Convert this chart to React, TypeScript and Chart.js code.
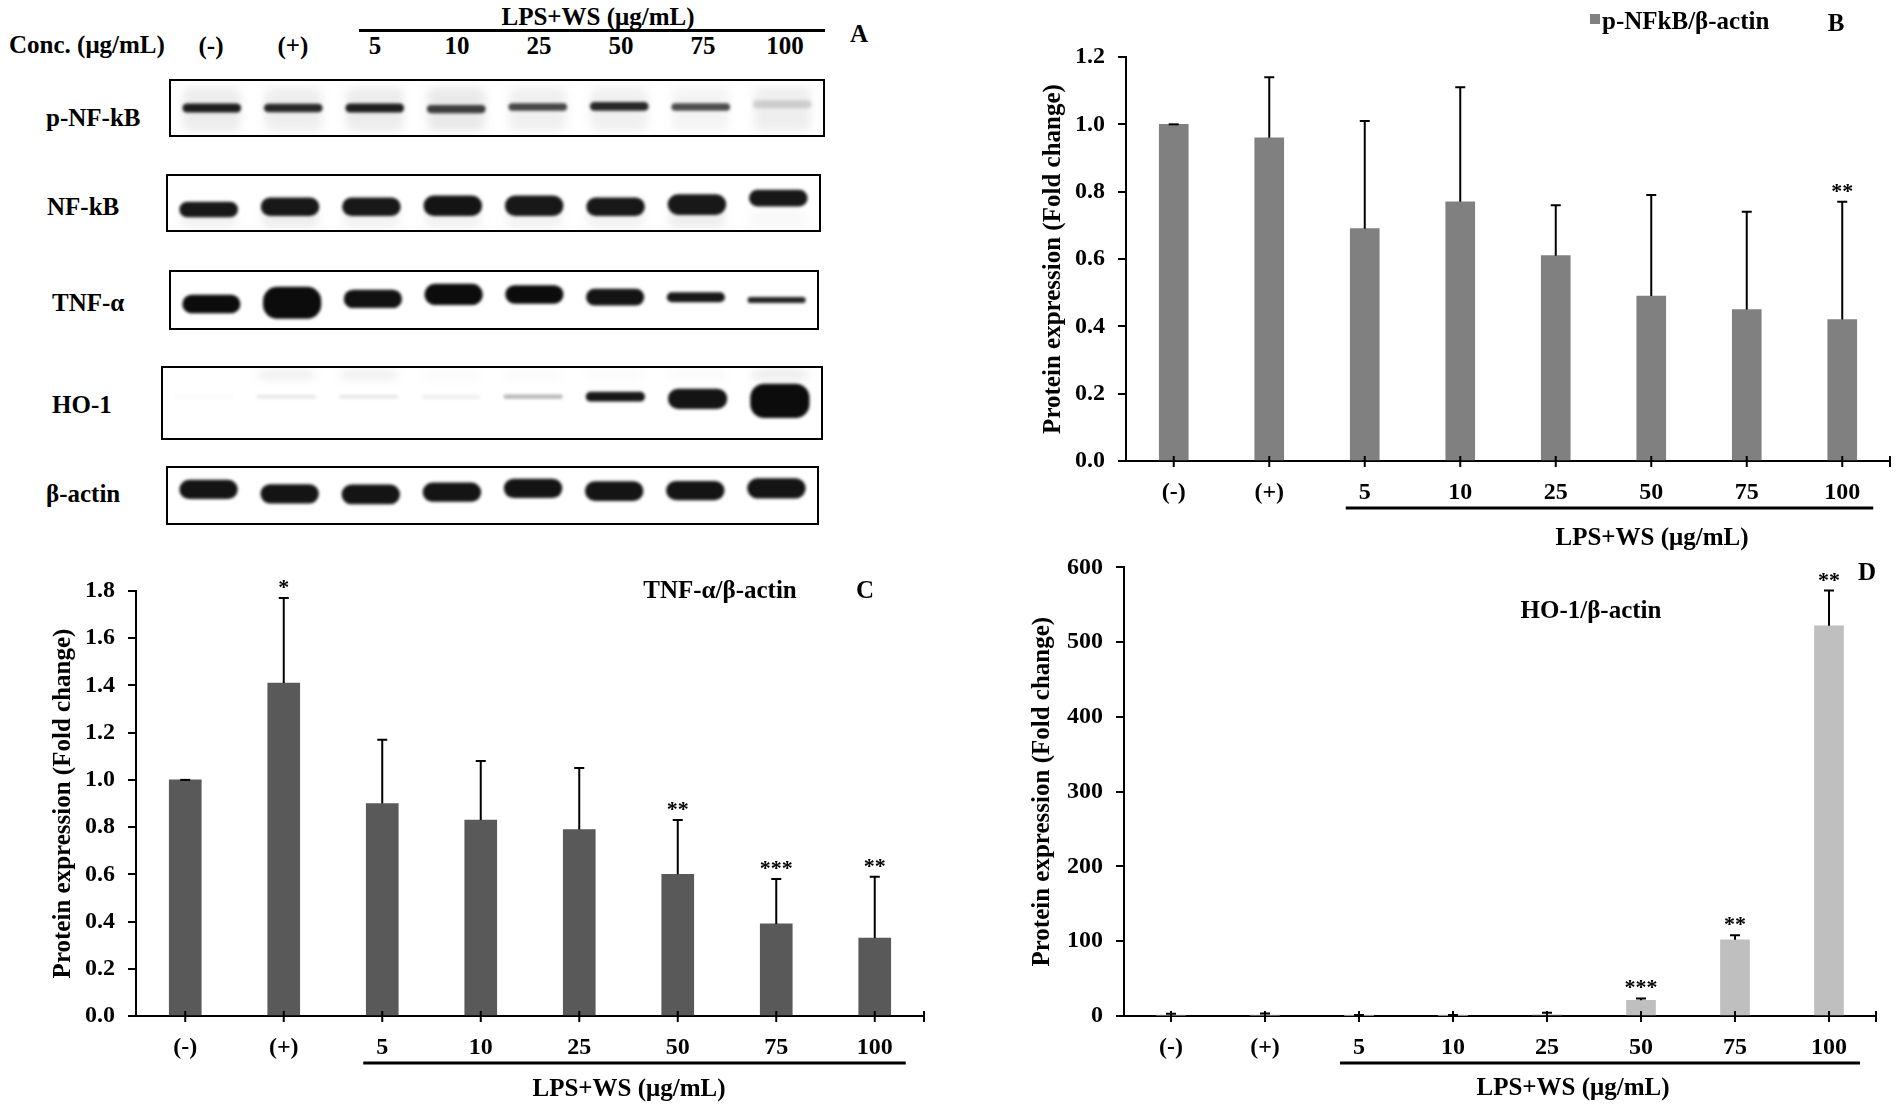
import React, { useEffect, useRef } from 'react';
import { Chart, registerables } from 'chart.js';
import type { ChartConfiguration, Plugin } from 'chart.js';

Chart.register(...registerables);

const FONT = '"Liberation Serif", "Times New Roman", serif';

const lanes = ['(-)', '(+)', '5', '10', '25', '50', '75', '100'];

// densitometry, fold change vs control (mean and upper SD)
const pNfkbMean = [1.0, 0.96, 0.69, 0.77, 0.61, 0.49, 0.45, 0.42];
const pNfkbSd = [0.0, 0.18, 0.32, 0.34, 0.15, 0.3, 0.29, 0.35];
const pNfkbStars = ['', '', '', '', '', '', '', '**'];

const tnfMean = [1.0, 1.41, 0.9, 0.83, 0.79, 0.6, 0.39, 0.33];
const tnfSd = [0.0, 0.36, 0.27, 0.25, 0.26, 0.23, 0.19, 0.26];
const tnfStars = ['', '*', '', '', '', '**', '***', '**'];

const ho1Mean = [1, 1.2, 0.8, 0.9, 1.5, 21, 102, 522];
const ho1Sd = [2, 2, 0.5, 0.5, 3, 2.5, 6, 47];
const ho1Stars = ['', '', '', '', '', '***', '**', '**'];

// blot read-out: band darkness (0-1), band centre and band height as a fraction of the strip
const pNfkbBand = [0.92, 0.88, 0.92, 0.78, 0.75, 0.88, 0.72, 0.15];
const pNfkbMid = [0.5, 0.5, 0.5, 0.52, 0.48, 0.47, 0.48, 0.43];
const pNfkbH = [0.17, 0.16, 0.17, 0.15, 0.14, 0.16, 0.14, 0.15];
const pNfkbSmear = [0.1, 0.09, 0.1, 0.12, 0.08, 0.08, 0.06, 0.09];

const nfkbBand = [0.95, 0.95, 0.95, 0.97, 0.95, 0.95, 0.95, 0.95];
const nfkbMid = [0.62, 0.57, 0.57, 0.55, 0.55, 0.57, 0.53, 0.41];
const nfkbH = [0.29, 0.34, 0.34, 0.38, 0.38, 0.34, 0.38, 0.31];
const nfkbSmear = [0.07, 0.09, 0.07, 0.07, 0.07, 0.07, 0.09, 0.04];

const tnfBand = [1, 1, 0.98, 1, 1, 0.97, 0.95, 0.9];
const tnfMid = [0.57, 0.55, 0.48, 0.4, 0.4, 0.45, 0.45, 0.5];
const tnfH = [0.33, 0.57, 0.33, 0.38, 0.33, 0.3, 0.18, 0.11];

const ho1Band = [0.02, 0.1, 0.1, 0.07, 0.3, 0.95, 0.97, 1];
const ho1Mid = [0.41, 0.41, 0.41, 0.41, 0.41, 0.41, 0.44, 0.47];
const ho1H = [0.05, 0.05, 0.05, 0.05, 0.06, 0.14, 0.29, 0.49];
const ho1Smear = [0, 0.09, 0.09, 0.03, 0.03, 0.03, 0.04, 0.12];

const actinBand = [0.97, 0.97, 0.97, 0.97, 0.97, 0.97, 0.97, 0.97];
const actinMid = [0.39, 0.47, 0.48, 0.44, 0.37, 0.42, 0.41, 0.37];
const actinH = [0.35, 0.35, 0.36, 0.35, 0.35, 0.36, 0.35, 0.37];

const tickFont = { family: FONT, size: 24, weight: 'bold' as const };

// soft edges: bands lightly blurred, background smear strongly blurred
const blurPlugin: Plugin<'bar'> = {
  id: 'blotBlur',
  beforeDatasetDraw(chart, args) {
    chart.ctx.save();
    chart.ctx.filter = args.index === 0 ? 'blur(1.6px)' : 'blur(5px)';
  },
  afterDatasetDraw(chart) {
    chart.ctx.restore();
  },
};

const errorBarPlugin: Plugin<'bar'> = {
  id: 'errorBars',
  afterDatasetsDraw(chart, _args, opts: any) {
    const { ctx, scales } = chart;
    const mean = chart.data.datasets[0].data as number[];
    const meta = chart.getDatasetMeta(0);
    ctx.save();
    ctx.strokeStyle = '#000';
    ctx.fillStyle = '#000';
    ctx.lineWidth = 2;
    ctx.font = `bold 22px ${FONT}`;
    ctx.textAlign = 'center';
    ctx.textBaseline = 'alphabetic';
    meta.data.forEach((bar, i) => {
      const x = bar.x;
      const y0 = scales.y.getPixelForValue(mean[i]);
      const y1 = scales.y.getPixelForValue(mean[i] + opts.sd[i]);
      ctx.beginPath();
      ctx.moveTo(x, y0);
      ctx.lineTo(x, y1);
      ctx.moveTo(x - 5, y1);
      ctx.lineTo(x + 5, y1);
      ctx.stroke();
      if (opts.stars[i]) ctx.fillText(opts.stars[i], x, y1 - 4);
    });
    ctx.restore();
  },
};

const axisDecorPlugin: Plugin<'bar'> = {
  id: 'axisDecor',
  afterDraw(chart) {
    const { ctx, chartArea, scales } = chart;
    const x = scales.x;
    const b = chartArea.bottom;
    ctx.save();
    ctx.strokeStyle = '#000';
    ctx.lineWidth = 2;
    ctx.beginPath();
    for (let i = 0; i < lanes.length; i++) {
      const px = x.getPixelForValue(i);
      ctx.moveTo(px, b - 5);
      ctx.lineTo(px, b + 6);
    }
    ctx.moveTo(chartArea.right, b - 5);
    ctx.lineTo(chartArea.right, b + 6);
    ctx.stroke();
    // bar under the LPS+WS doses
    ctx.lineWidth = 3;
    ctx.beginPath();
    ctx.moveTo(x.getPixelForValue(2) - 19, b + 47);
    ctx.lineTo(x.getPixelForValue(lanes.length - 1) + 31, b + 47);
    ctx.stroke();
    ctx.restore();
  },
};

function ChartCanvas({ make }: { make: () => ChartConfiguration<'bar'> }) {
  const ref = useRef<HTMLCanvasElement | null>(null);
  useEffect(() => {
    if (!ref.current) return;
    const chart = new Chart(ref.current, make());
    return () => chart.destroy();
  }, []);
  return <canvas ref={ref} />;
}

type BarProps = {
  left: number;
  top: number;
  width: number;
  height: number;
  padTop: number;
  padRight: number;
  yWidth: number;
  titlePad: number;
  mean: number[];
  sd: number[];
  stars: string[];
  color: string;
  max: number;
  step: number;
  digits: number;
  barWidth: number;
};

function BarPanel(p: BarProps) {
  const make = (): ChartConfiguration<'bar'> => ({
    type: 'bar',
    data: {
      labels: lanes,
      datasets: [{ data: p.mean, backgroundColor: p.color, barThickness: p.barWidth, borderWidth: 0 }],
    },
    options: {
      responsive: true,
      maintainAspectRatio: false,
      animation: false,
      layout: { padding: { top: p.padTop, right: p.padRight, left: 0, bottom: 0 } },
      plugins: {
        legend: { display: false },
        tooltip: { enabled: false },
        errorBars: { sd: p.sd, stars: p.stars },
      } as any,
      scales: {
        x: {
          offset: true,
          z: 1,
          grid: { display: false, drawTicks: false },
          border: { display: true, color: '#000', width: 2 },
          ticks: { color: '#000', font: tickFont, padding: 17, maxRotation: 0, autoSkip: false },
          afterFit: (s: any) => {
            s.height = 80;
          },
        },
        y: {
          min: 0,
          max: p.max,
          z: 1,
          ticks: {
            stepSize: p.step,
            color: '#000',
            font: tickFont,
            padding: 13,
            callback: (v: any) => Number(v).toFixed(p.digits),
          },
          grid: { drawOnChartArea: false, color: '#000', lineWidth: 2, tickLength: 8 },
          border: { display: true, color: '#000', width: 2 },
          title: {
            display: true,
            text: 'Protein expression (Fold change)',
            color: '#000',
            font: { family: FONT, size: 25, weight: 'bold' },
            padding: { top: p.titlePad, bottom: 0 },
          },
          afterFit: (s: any) => {
            s.width = p.yWidth;
          },
        },
      },
    },
    plugins: [errorBarPlugin, axisDecorPlugin],
  });
  return (
    <div style={{ position: 'absolute', left: p.left, top: p.top, width: p.width, height: p.height }}>
      <ChartCanvas make={make} />
    </div>
  );
}

type BlotProps = {
  box: [number, number, number, number];
  band: number[];
  mid: number[];
  h: number[];
  smear?: number[];
  smearSpan?: [number, number];
};

function BlotStrip({ box, band, mid, h, smear, smearSpan }: BlotProps) {
  const make = (): ChartConfiguration<'bar'> => {
    const datasets: any[] = [
      {
        data: mid.map((m, i) => [m - h[i] / 2, m + h[i] / 2]),
        backgroundColor: band.map((a) => `rgba(12,12,12,${a})`),
        grouped: false,
        barPercentage: 0.72,
        categoryPercentage: 1,
        borderSkipped: false,
        borderRadius: 14,
      },
    ];
    if (smear && smearSpan) {
      datasets.push({
        data: smear.map(() => smearSpan),
        backgroundColor: smear.map((a) => `rgba(70,70,70,${a})`),
        grouped: false,
        barPercentage: 0.7,
        categoryPercentage: 1,
        borderSkipped: false,
        borderRadius: 6,
      });
    }
    return {
      type: 'bar',
      data: { labels: lanes, datasets },
      options: {
        responsive: true,
        maintainAspectRatio: false,
        animation: false,
        layout: { padding: 0 },
        plugins: { legend: { display: false }, tooltip: { enabled: false } },
        scales: {
          x: { display: false, offset: true },
          y: { display: false, min: 0, max: 1, reverse: true },
        },
      },
      plugins: [blurPlugin],
    };
  };
  const [l, t, w, hh] = box;
  return (
    <div
      style={{
        position: 'absolute',
        left: l,
        top: t,
        width: w,
        height: hh,
        border: '2px solid #000',
        boxSizing: 'border-box',
      }}
    >
      <div style={{ position: 'relative', width: '100%', height: '100%' }}>
        <ChartCanvas make={make} />
      </div>
    </div>
  );
}

function Txt({ x, y, s = 25, left = false, children }: { x: number; y: number; s?: number; left?: boolean; children: React.ReactNode }) {
  return (
    <div
      style={{
        position: 'absolute',
        left: x,
        top: y,
        transform: left ? 'translate(0,-50%)' : 'translate(-50%,-50%)',
        fontFamily: FONT,
        fontWeight: 'bold',
        fontSize: s,
        lineHeight: 1,
        whiteSpace: 'nowrap',
        color: '#000',
      }}
    >
      {children}
    </div>
  );
}

const rowLabels = ['p-NF-kB', 'NF-kB', 'TNF-α', 'HO-1', 'β-actin'];

export default function App() {
  return (
    <div style={{ position: 'absolute', left: 0, top: 0, width: 1901, height: 1109, background: '#fff', overflow: 'hidden' }}>
      {/* A: western blot */}
      <Txt x={9} y={44} left>
        Conc. (μg/mL)
      </Txt>
      {lanes.map((l, i) => (
        <Txt key={l} x={211 + i * 82} y={45}>
          {l}
        </Txt>
      ))}
      <div style={{ position: 'absolute', left: 359, top: 29, width: 466, height: 3, background: '#000' }} />
      <Txt x={598} y={16}>LPS+WS (μg/mL)</Txt>
      <Txt x={859} y={33}>A</Txt>

      <Txt x={46} y={117} left>{rowLabels[0]}</Txt>
      <Txt x={47} y={206} left>{rowLabels[1]}</Txt>
      <Txt x={52} y={302} left>{rowLabels[2]}</Txt>
      <Txt x={52} y={404} left>{rowLabels[3]}</Txt>
      <Txt x={46} y={493} left>{rowLabels[4]}</Txt>

      <BlotStrip box={[169, 79, 656, 58]} band={pNfkbBand} mid={pNfkbMid} h={pNfkbH} smear={pNfkbSmear} smearSpan={[0.12, 0.93]} />
      <BlotStrip box={[166, 174, 655, 58]} band={nfkbBand} mid={nfkbMid} h={nfkbH} smear={nfkbSmear} smearSpan={[0.62, 0.97]} />
      <BlotStrip box={[169, 270, 650, 60]} band={tnfBand} mid={tnfMid} h={tnfH} />
      <BlotStrip box={[161, 366, 662, 74]} band={ho1Band} mid={ho1Mid} h={ho1H} smear={ho1Smear} smearSpan={[0.03, 0.16]} />
      <BlotStrip box={[166, 466, 653, 59]} band={actinBand} mid={actinMid} h={actinH} />

      {/* B */}
      <BarPanel
        left={1000}
        top={0}
        width={901}
        height={541}
        padTop={57}
        padRight={11}
        yWidth={126}
        titlePad={39}
        mean={pNfkbMean}
        sd={pNfkbSd}
        stars={pNfkbStars}
        color="#808080"
        max={1.2}
        step={0.2}
        digits={1}
        barWidth={29}
      />
      <div style={{ position: 'absolute', left: 1590, top: 14, width: 10, height: 10, background: '#808080' }} />
      <Txt x={1602} y={20} left>p-NFkB/β-actin</Txt>
      <Txt x={1836} y={22}>B</Txt>
      <Txt x={1652} y={536}>LPS+WS (μg/mL)</Txt>

      {/* C */}
      <BarPanel
        left={0}
        top={560}
        width={940}
        height={536}
        padTop={31}
        padRight={16}
        yWidth={136}
        titlePad={49}
        mean={tnfMean}
        sd={tnfSd}
        stars={tnfStars}
        color="#595959"
        max={1.8}
        step={0.2}
        digits={1}
        barWidth={32}
      />
      <Txt x={720} y={589}>TNF-α/β-actin</Txt>
      <Txt x={865} y={589}>C</Txt>
      <Txt x={629} y={1087}>LPS+WS (μg/mL)</Txt>

      {/* D */}
      <BarPanel
        left={1000}
        top={540}
        width={901}
        height={556}
        padTop={22}
        padRight={25}
        yWidth={124}
        titlePad={28}
        mean={ho1Mean}
        sd={ho1Sd}
        stars={ho1Stars}
        color="#bfbfbf"
        max={600}
        step={100}
        digits={0}
        barWidth={29}
      />
      <Txt x={1591} y={609}>HO-1/β-actin</Txt>
      <Txt x={1867} y={571}>D</Txt>
      <Txt x={1573} y={1086}>LPS+WS (μg/mL)</Txt>
    </div>
  );
}
